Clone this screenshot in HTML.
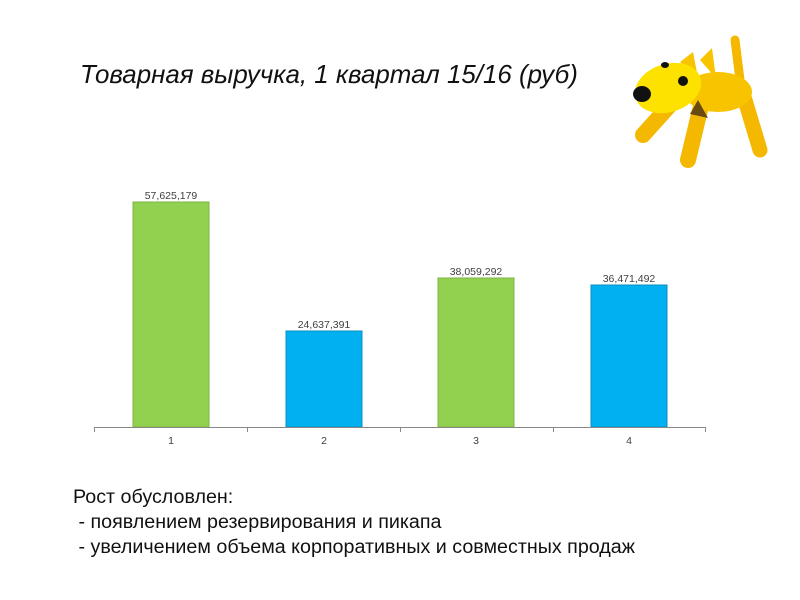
<!DOCTYPE html>
<html><head><meta charset="utf-8"><style>
body{margin:0;width:800px;height:600px;background:#fff;position:relative;overflow:hidden;font-family:"Liberation Sans",sans-serif}
.t{position:absolute;white-space:nowrap}
</style></head><body>
<div class="t" style="left:80px;top:61px;font-size:25.9px;font-style:italic;color:#111">Товарная выручка, 1 квартал 15/16 (руб)</div>
<svg width="800" height="600" style="position:absolute;left:0;top:0">
<g stroke="#f5b800" stroke-linecap="round" fill="none">
<line x1="670" y1="105" x2="643" y2="135" stroke-width="16"/>
<line x1="700" y1="110" x2="688" y2="160" stroke-width="16"/>
<line x1="745" y1="100" x2="760" y2="150" stroke-width="15"/>
<line x1="740" y1="80" x2="735" y2="40" stroke-width="9"/>
</g>
<ellipse cx="718" cy="92" rx="34" ry="20" fill="#f8c400"/>
<path d="M700 60 L712 48 L716 78 Z" fill="#f8c400"/>
<path d="M680 62 L693 52 L698 78 Z" fill="#f8c400"/>
<ellipse cx="668" cy="88" rx="34" ry="24" fill="#fde200" transform="rotate(-18 668 88)"/>
<ellipse cx="642" cy="94" rx="9" ry="8" fill="#111"/>
<ellipse cx="683" cy="81" rx="5" ry="5" fill="#111"/>
<ellipse cx="665" cy="65" rx="4" ry="3" fill="#111"/>
<path d="M698 100 L708 118 L690 114 Z" fill="#6a4a10"/>
<rect x="133" y="202" width="76" height="225" fill="#92d050" stroke="#7fb43f"/>
<rect x="286" y="331" width="76" height="96" fill="#00b0f0" stroke="#0a8fbf"/>
<rect x="438" y="278" width="76" height="149" fill="#92d050" stroke="#7fb43f"/>
<rect x="591" y="285" width="76" height="142" fill="#00b0f0" stroke="#0a8fbf"/>
<g stroke="#888" stroke-width="1">
<line x1="94" y1="427.5" x2="706" y2="427.5"/>
<line x1="94.5" y1="427" x2="94.5" y2="432"/>
<line x1="247.5" y1="427" x2="247.5" y2="432"/>
<line x1="400.5" y1="427" x2="400.5" y2="432"/>
<line x1="553.5" y1="427" x2="553.5" y2="432"/>
<line x1="705.5" y1="427" x2="705.5" y2="432"/>
</g>
<g font-size="10.5" fill="#404040" text-anchor="middle" font-family="Liberation Sans">
<text x="171" y="199">57,625,179</text>
<text x="324" y="328">24,637,391</text>
<text x="476" y="275">38,059,292</text>
<text x="629" y="282">36,471,492</text>
<text x="171" y="444">1</text>
<text x="324" y="444">2</text>
<text x="476" y="444">3</text>
<text x="629" y="444">4</text>
</g>
</svg>
<div class="t" style="left:73px;top:485px;font-size:19.7px;line-height:25px;color:#111">Рост обусловлен:<br>&nbsp;- появлением резервирования и пикапа<br>&nbsp;- увеличением объема корпоративных и совместных продаж</div>
</body></html>
